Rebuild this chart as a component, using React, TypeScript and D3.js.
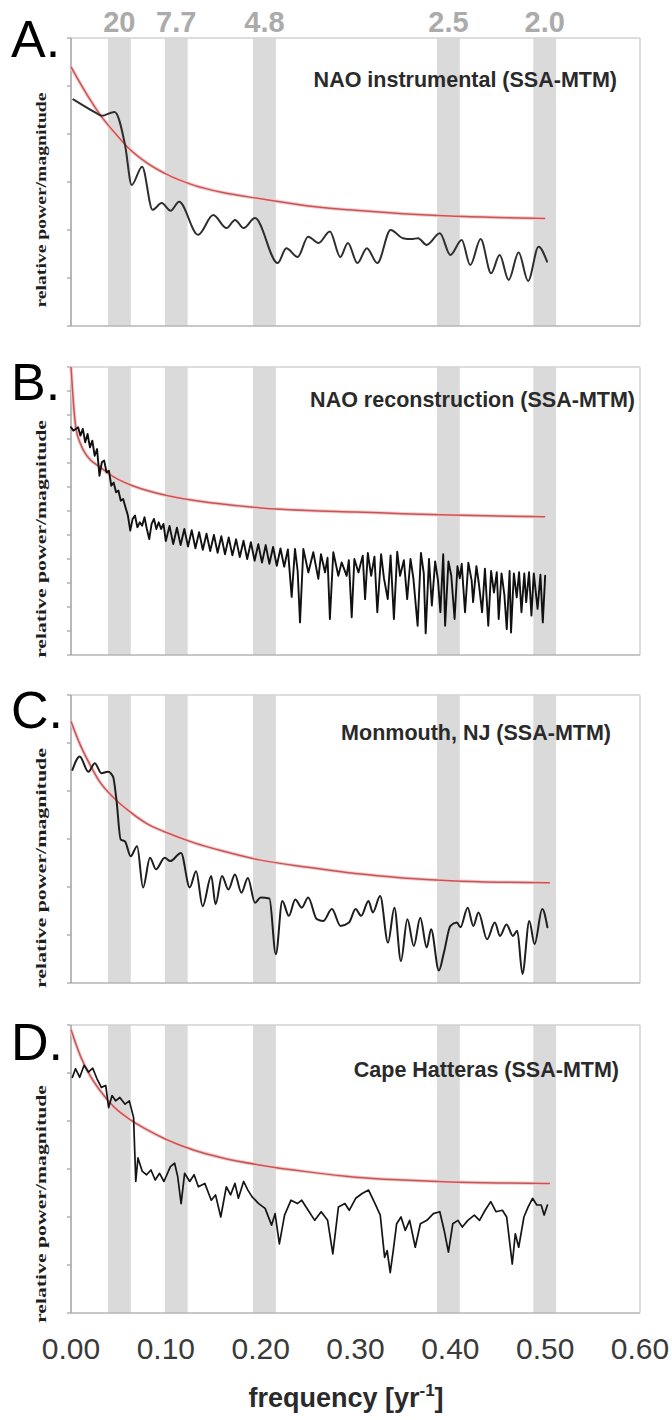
import React from "react";
import * as d3 from "d3";

const W = 672;
const H = 1420;

// x-axis (frequency, 1/yr)
const freqTicks = [0, 0.1, 0.2, 0.3, 0.4, 0.5, 0.6];
// shaded period bands (centre frequency) and their period labels in years
const bandCenters = [0.051, 0.111, 0.204, 0.398, 0.4995];
const bandWidth = 0.024;
const periodLabels = ["20", "7.7", "4.8", "2.5", "2.0"];

const panelLetters = ["A.", "B.", "C.", "D."];
const panelTitles = [
  "NAO instrumental (SSA-MTM)",
  "NAO reconstruction (SSA-MTM)",
  "Monmouth, NJ (SSA-MTM)",
  "Cape Hatteras (SSA-MTM)",
];

// ---- A. NAO instrumental ----
const redFreqA = [0, 0.01, 0.02, 0.03, 0.045, 0.06, 0.08, 0.1, 0.13, 0.16, 0.2, 0.25, 0.3, 0.35, 0.4, 0.45, 0.5];
const redA = [5.4, 5.05, 4.72, 4.42, 4.05, 3.72, 3.4, 3.17, 2.93, 2.78, 2.65, 2.5, 2.41, 2.34, 2.29, 2.26, 2.24];
const specFreqA = [
  0.0024, 0.03, 0.032, 0.046, 0.057, 0.064, 0.075, 0.086, 0.0956, 0.105, 0.114, 0.134, 0.15, 0.164, 0.173,
  0.182, 0.194, 0.218, 0.227, 0.239, 0.25, 0.261, 0.273, 0.284, 0.292, 0.302, 0.312, 0.323, 0.337, 0.35,
  0.359, 0.366, 0.375, 0.389, 0.4, 0.412, 0.421, 0.432, 0.443, 0.452, 0.4615, 0.472, 0.482, 0.493, 0.502,
];
const specA = [
  4.72, 4.4, 4.38, 4.46, 3.77, 2.94, 3.32, 2.42, 2.56, 2.4, 2.59, 1.9, 2.31, 2.04, 2.21,
  2.04, 2.25, 1.31, 1.62, 1.44, 1.86, 1.73, 1.97, 1.44, 1.73, 1.31, 1.62, 1.31, 2.0, 1.83,
  1.81, 1.83, 1.69, 1.93, 1.48, 1.79, 1.27, 1.81, 1.1, 1.48, 0.96, 1.53, 0.94, 1.65, 1.34,
];

// ---- B. NAO reconstruction ----
const redFreqB = [0, 0.002, 0.005, 0.01, 0.015, 0.02, 0.03, 0.045, 0.065, 0.09, 0.12, 0.15, 0.2, 0.25, 0.3, 0.35, 0.4, 0.45, 0.5];
const redB = [12.0, 10.8, 9.5, 8.8, 8.4, 8.15, 7.85, 7.42, 7.05, 6.75, 6.5, 6.33, 6.13, 6.02, 5.96, 5.89, 5.83, 5.79, 5.76];
const specFreqB = [
  0, 0.0025, 0.005, 0.0075, 0.01, 0.0125, 0.015, 0.0175, 0.02, 0.0225, 0.025, 0.0275, 0.03, 0.0325, 0.035,
  0.0375, 0.04, 0.0425, 0.045, 0.0475, 0.05, 0.0525, 0.055, 0.0575, 0.06, 0.0625, 0.065, 0.0675, 0.07,
  0.0725, 0.075, 0.0775, 0.08, 0.0825, 0.085, 0.0875, 0.09, 0.0925, 0.095, 0.0975, 0.1,
  0.1039, 0.1078, 0.1117, 0.1156, 0.1195, 0.1234, 0.1273, 0.1312, 0.1351, 0.139, 0.1429, 0.1468, 0.1507,
  0.1546, 0.1585, 0.1624, 0.1663, 0.1702, 0.1741, 0.178, 0.1819, 0.1858, 0.1897, 0.1936, 0.1975, 0.2014,
  0.2053, 0.2092, 0.2131, 0.217, 0.2209, 0.2248, 0.2287,
  0.2327, 0.2362, 0.239, 0.2415, 0.245, 0.2503, 0.2555, 0.2608, 0.2636, 0.2679, 0.2705, 0.273, 0.2766,
  0.2819, 0.2854, 0.2907, 0.293, 0.296, 0.2988, 0.3031, 0.3076, 0.3101, 0.313, 0.3165, 0.32, 0.323,
  0.327, 0.33, 0.334, 0.337, 0.3405, 0.344, 0.347, 0.351, 0.3545, 0.358, 0.361, 0.3655, 0.369, 0.372,
  0.374, 0.3775, 0.3805, 0.384, 0.387, 0.3895, 0.3925, 0.3945, 0.398, 0.401, 0.4045, 0.4075, 0.41,
  0.412, 0.4155, 0.419, 0.4225, 0.424, 0.4275, 0.43, 0.4335, 0.4365, 0.44, 0.443, 0.446, 0.449, 0.451,
  0.454, 0.457, 0.4595, 0.4625, 0.464, 0.467, 0.47, 0.4725, 0.475, 0.478, 0.48, 0.483, 0.4855, 0.488,
  0.492, 0.495, 0.4975, 0.5,
];
const specB = [
  9.49, 9.35, 9.42, 9.49, 9.14, 9.42, 8.86, 9.21, 8.65, 8.93, 8.3, 8.58, 7.47, 8.03, 8.1,
  7.61, 7.68, 7.05, 7.19, 6.78, 6.85, 6.43, 6.5, 6.15, 5.81, 5.18, 5.67, 5.81, 5.32,
  5.53, 5.39, 5.74, 5.25, 4.83, 5.46, 5.67, 5.25, 5.53, 5.25, 5.46, 4.75,
  5.38, 4.62, 5.3, 4.58, 5.25, 4.52, 5.2, 4.45, 5.12, 4.38, 5.05, 4.33, 5.0,
  4.26, 4.95, 4.2, 4.9, 4.15, 4.82, 4.08, 4.76, 4.0, 4.7, 3.93, 4.62, 3.85,
  4.58, 3.8, 4.5, 3.72, 4.44, 3.68, 4.4,
  2.42, 4.42, 3.5, 1.36, 4.42, 3.44, 4.28, 3.17, 4.2, 3.44, 4.05, 1.5, 4.28,
  3.3, 3.86, 3.3, 3.95, 1.57, 4.0, 3.44, 4.14, 2.33, 4.25, 3.3, 4.1, 1.78,
  4.2, 3.2, 2.33, 4.15, 1.5, 4.3, 3.3, 3.95, 2.33, 4.0, 3.2, 1.22, 4.25, 3.4,
  0.9, 4.0, 2.06, 3.9, 3.1, 1.78, 4.2, 1.22, 3.9, 3.3, 1.5, 3.7, 3.2,
  3.8, 1.78, 3.85, 3.1, 2.2, 3.7, 3.0, 1.78, 3.6, 1.22, 3.5, 2.6, 3.45, 1.5,
  3.4, 2.5, 1.08, 3.5, 0.94, 3.4, 2.4, 3.45, 1.78, 3.4, 2.2, 3.45, 1.64, 3.4,
  1.92, 3.35, 1.36, 3.3,
];

// ---- C. Monmouth, NJ ----
const redFreqC = [0, 0.01, 0.02, 0.03, 0.045, 0.06, 0.08, 0.1, 0.13, 0.16, 0.2, 0.25, 0.3, 0.35, 0.4, 0.45, 0.505];
const redC = [5.45, 4.95, 4.55, 4.2, 3.86, 3.6, 3.32, 3.14, 2.92, 2.75, 2.56, 2.41, 2.28, 2.19, 2.13, 2.1, 2.09];
const specFreqC = [
  0.0015, 0.0092, 0.0183, 0.0251, 0.032, 0.0388, 0.0443, 0.0479, 0.0524, 0.057, 0.0629, 0.0697, 0.076,
  0.0833, 0.0896, 0.0988, 0.1047, 0.116, 0.1252, 0.1319, 0.1388, 0.1479, 0.1524, 0.1592, 0.166, 0.1729,
  0.1797, 0.1865, 0.194, 0.2, 0.2092, 0.216, 0.2228, 0.2297, 0.2365, 0.2433, 0.2501, 0.2592, 0.266,
  0.2751, 0.2842, 0.2932, 0.3001, 0.306, 0.3137, 0.3183, 0.326, 0.3343, 0.341, 0.3479, 0.3547, 0.3615,
  0.3683, 0.3751, 0.3797, 0.3879, 0.3933, 0.4001, 0.4069, 0.4106, 0.4183, 0.4242, 0.4297, 0.4387,
  0.4469, 0.4524, 0.4592, 0.466, 0.4706, 0.476, 0.4833, 0.4888, 0.4969, 0.5024,
];
const specC = [
  4.44, 4.72, 4.4, 4.58, 4.37, 4.4, 4.3, 3.82, 2.99, 2.95, 2.64, 2.85, 1.99,
  2.61, 2.37, 2.61, 2.54, 2.71, 1.99, 2.33, 1.6, 2.23, 1.64, 2.23, 1.95, 2.26,
  1.88, 2.19, 1.67, 1.78, 1.76, 0.6, 1.71, 1.4, 1.74, 1.57, 1.78, 1.33, 1.29,
  1.54, 1.19, 1.26, 1.54, 1.4, 1.71, 1.47, 1.81, 0.84, 1.57, 0.46, 1.33, 0.77,
  1.36, 0.74, 1.12, 0.26, 0.64, 1.19, 1.26, 1.16, 1.57, 1.19, 1.47, 0.91,
  1.26, 0.98, 1.22, 0.98, 1.09, 0.19, 1.29, 0.81, 1.54, 1.16,
];

// ---- D. Cape Hatteras ----
const redFreqD = [0, 0.01, 0.02, 0.03, 0.045, 0.06, 0.08, 0.1, 0.13, 0.16, 0.2, 0.25, 0.3, 0.35, 0.4, 0.45, 0.505];
const redD = [5.9, 5.35, 4.95, 4.65, 4.3, 4.06, 3.82, 3.62, 3.39, 3.23, 3.08, 2.94, 2.83, 2.77, 2.73, 2.71, 2.7];
const specFreqD = [
  0.0015, 0.0047, 0.0092, 0.0138, 0.0183, 0.0229, 0.0274, 0.032, 0.0366, 0.0397, 0.0433, 0.047, 0.0515,
  0.057, 0.0615, 0.066, 0.0683, 0.0706, 0.0752, 0.0797, 0.0843, 0.0888, 0.0934, 0.098, 0.1048, 0.1093,
  0.1125, 0.1161, 0.1198, 0.1252, 0.1298, 0.1343, 0.1411, 0.1479, 0.1524, 0.1579, 0.1638, 0.1683,
  0.1729, 0.1765, 0.182, 0.1865, 0.191, 0.1979, 0.2047, 0.2115, 0.2152, 0.2197, 0.2252, 0.232, 0.2388,
  0.2433, 0.2501, 0.257, 0.2638, 0.2706, 0.2761, 0.282, 0.2888, 0.2934, 0.3002, 0.307, 0.3138, 0.3206,
  0.3261, 0.3307, 0.3334, 0.3366, 0.3398, 0.3434, 0.348, 0.3525, 0.3571, 0.363, 0.3684, 0.3753, 0.3821,
  0.3889, 0.3935, 0.398, 0.4026, 0.408, 0.4126, 0.4185, 0.4253, 0.4308, 0.4367, 0.4426, 0.4481, 0.4549,
  0.4594, 0.4653, 0.4685, 0.4721, 0.4776, 0.4821, 0.4867, 0.4912, 0.4958, 0.4989, 0.5024,
];
const specD = [
  4.91, 5.09, 4.91, 5.16, 5.02, 5.1, 4.88, 4.7, 4.74, 4.28, 4.53, 4.42, 4.49,
  4.35, 4.42, 4.07, 2.74, 3.23, 2.95, 2.88, 2.98, 2.77, 2.91, 2.74, 3.05, 3.12,
  2.84, 2.28, 2.91, 2.74, 2.88, 2.63, 2.7, 2.35, 2.46, 2.0, 2.63, 2.46,
  2.7, 2.39, 2.74, 2.56, 2.42, 2.28, 2.18, 1.83, 2.07, 1.44, 2.04, 2.35, 2.28,
  2.35, 2.14, 1.93, 2.11, 1.93, 1.23, 2.21, 2.28, 2.14, 2.39, 2.49, 2.56, 2.28,
  2.04, 1.16, 1.3, 0.84, 1.3, 1.86, 2.0, 1.72, 1.93, 1.37, 1.86, 1.93, 2.07,
  2.11, 1.72, 1.27, 1.86, 1.93, 1.79, 1.93, 2.04, 1.93, 2.14, 2.32, 2.11, 2.14,
  2.0, 1.02, 1.65, 1.37, 2.0, 2.21, 2.39, 2.25, 2.25, 2.04, 2.25,
];

type Panel = {
  top: number;
  yMax: number;
  letterY: number;
  titleY: number;
  titleRight: number;
  yLabelCenter: number;
  yLabelLength: number;
  redF: number[];
  redV: number[];
  specF: number[];
  specV: number[];
  smooth: boolean;
  lineWidth: number;
  lineColor: string;
};

const PANEL_H = 288;

const panels: Panel[] = [
  { top: 38, yMax: 6, letterY: 57, titleY: 87, titleRight: 617, yLabelCenter: 200, yLabelLength: 215,
    redF: redFreqA, redV: redA, specF: specFreqA, specV: specA, smooth: true, lineWidth: 2, lineColor: "#2e2e2e" },
  { top: 367, yMax: 12, letterY: 400, titleY: 407, titleRight: 635, yLabelCenter: 539, yLabelLength: 238,
    redF: redFreqB, redV: redB, specF: specFreqB, specV: specB, smooth: false, lineWidth: 1.9, lineColor: "#111" },
  { top: 695, yMax: 6, letterY: 728, titleY: 740, titleRight: 611, yLabelCenter: 868, yLabelLength: 240,
    redF: redFreqC, redV: redC, specF: specFreqC, specV: specC, smooth: true, lineWidth: 2, lineColor: "#1e1e1e" },
  { top: 1025, yMax: 6, letterY: 1060, titleY: 1077, titleRight: 619, yLabelCenter: 1204, yLabelLength: 238,
    redF: redFreqD, redV: redD, specF: specFreqD, specV: specD, smooth: false, lineWidth: 1.7, lineColor: "#151515" },
];

const x = d3.scaleLinear().domain([0, 0.6]).range([71, 640]);

function PanelView({ p, i }: { p: Panel; i: number }) {
  const bottom = p.top + PANEL_H;
  const y = d3.scaleLinear().domain([0, p.yMax]).range([bottom, p.top]);
  const ticks = d3.range(0, p.yMax + 1);

  const redLine = d3
    .line<number>()
    .x((_, k) => x(p.redF[k]))
    .y((v) => y(v))
    .curve(d3.curveMonotoneX);
  const specLine = d3
    .line<number>()
    .x((_, k) => x(p.specF[k]))
    .y((v) => y(v))
    .curve(p.smooth ? d3.curveMonotoneX : d3.curveLinear);

  const redPath = redLine(p.redV) || "";
  const specPath = specLine(p.specV) || "";
  const x0 = x(0);
  const x1 = x(0.6);

  return (
    <g>
      {/* shaded period bands */}
      {bandCenters.map((c, k) => (
        <rect
          key={k}
          x={x(c - bandWidth / 2)}
          y={p.top}
          width={x(c + bandWidth / 2) - x(c - bandWidth / 2)}
          height={PANEL_H}
          fill="#dadada"
        />
      ))}
      {/* frame */}
      <line x1={x0} x2={x1} y1={p.top} y2={p.top} stroke="#d2d2d2" strokeWidth={1.5} />
      <line x1={x1} x2={x1} y1={p.top} y2={bottom} stroke="#d2d2d2" strokeWidth={1.5} />
      <line x1={x0} x2={x1} y1={bottom} y2={bottom} stroke="#b4b4b4" strokeWidth={1.5} />
      <line x1={x0} x2={x0} y1={p.top} y2={bottom} stroke="#a0a0a0" strokeWidth={1.5} />
      {ticks.map((t) => (
        <line key={t} x1={x0 - 4} x2={x0} y1={y(t)} y2={y(t)} stroke="#a0a0a0" strokeWidth={1.2} />
      ))}
      {/* red-noise significance curve */}
      <path d={redPath} fill="none" stroke="#f3cccc" strokeWidth={3.5} strokeLinejoin="round" />
      <path d={redPath} fill="none" stroke="#c85555" strokeWidth={1.5} strokeLinejoin="round" />
      {/* SSA-MTM spectrum */}
      <path
        d={specPath}
        fill="none"
        stroke={p.lineColor}
        strokeWidth={p.lineWidth}
        strokeLinejoin="round"
        strokeLinecap="round"
      />
      {/* titles */}
      <text
        x={p.titleRight}
        y={p.titleY}
        textAnchor="end"
        fontFamily="'Liberation Sans', Arial, sans-serif"
        fontWeight="bold"
        fontSize={21.5}
        fill="#2a2a2a"
      >
        {panelTitles[i]}
      </text>
      <text
        x={11}
        y={p.letterY}
        fontFamily="'Liberation Sans', Arial, sans-serif"
        fontSize={52}
        fill="#000"
      >
        {panelLetters[i]}
      </text>
      <text
        transform={`translate(46, ${p.yLabelCenter}) rotate(-90)`}
        textAnchor="middle"
        fontFamily="'Liberation Serif', 'Times New Roman', serif"
        fontWeight="bold"
        fontSize={15.5}
        fill="#1e1e1e"
        textLength={p.yLabelLength}
        lengthAdjust="spacingAndGlyphs"
      >
        relative power/magnitude
      </text>
    </g>
  );
}

export default function App() {
  return (
    <svg
      width={W}
      height={H}
      viewBox={`0 0 ${W} ${H}`}
      style={{ position: "absolute", left: 0, top: 0, background: "#fff" }}
    >
      <rect width={W} height={H} fill="#fff" />
      {panels.map((p, i) => (
        <PanelView key={i} p={p} i={i} />
      ))}
      {/* period labels above the top panel */}
      {bandCenters.map((c, k) => (
        <text
          key={k}
          x={x(c)}
          y={32}
          textAnchor="middle"
          fontFamily="'Liberation Sans', Arial, sans-serif"
          fontWeight="bold"
          fontSize={29}
          fill="#ababab"
        >
          {periodLabels[k]}
        </text>
      ))}
      {/* frequency tick labels */}
      {freqTicks.map((t) => (
        <text
          key={t}
          x={x(t)}
          y={1359}
          textAnchor="middle"
          fontFamily="'Liberation Sans', Arial, sans-serif"
          fontSize={30}
          fill="#3a3a3a"
        >
          {t.toFixed(2)}
        </text>
      ))}
      <text
        x={346}
        y={1407}
        textAnchor="middle"
        fontFamily="'Liberation Sans', Arial, sans-serif"
        fontWeight="bold"
        fontSize={27}
        fill="#2a2a2a"
      >
        frequency [yr
        <tspan fontSize={17} dy={-11}>-1</tspan>
        <tspan dy={11}>]</tspan>
      </text>
    </svg>
  );
}
